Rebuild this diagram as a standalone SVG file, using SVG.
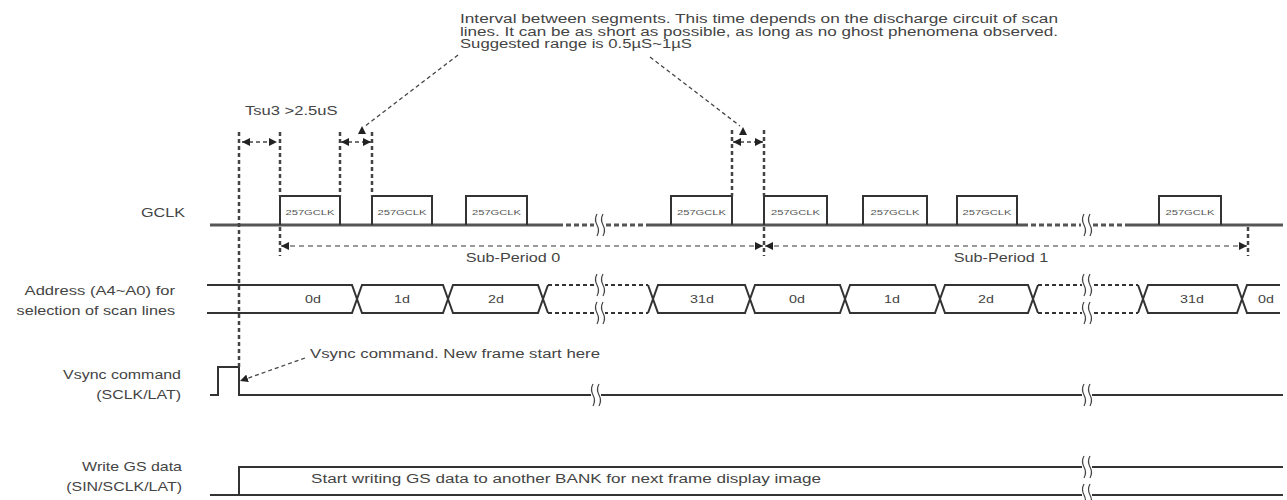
<svg xmlns="http://www.w3.org/2000/svg" width="1287" height="500" viewBox="0 0 1287 500">
<style>
text{font-family:"Liberation Sans",Arial,sans-serif;fill:#444}
.lbl{font-size:12px;text-anchor:end}
.s{font-size:12px}
.p{font-size:8px;fill:#555;text-anchor:middle}
.a{font-size:11px;text-anchor:middle}
.ln{fill:none;stroke:#333;stroke-width:2}
.base{fill:none;stroke:#555;stroke-width:3}
.dash{fill:none;stroke:#555;stroke-width:3;stroke-dasharray:5 3}
.bd{fill:none;stroke:#333;stroke-width:2;stroke-dasharray:4 3}
.vd{fill:none;stroke:#444;stroke-width:2.5;stroke-dasharray:4 3}
.sp{fill:none;stroke:#999;stroke-width:2;stroke-dasharray:5 4}
.ld{fill:none;stroke:#444;stroke-width:1.3;stroke-dasharray:4 3}
.pulse{fill:none;stroke:#333;stroke-width:2}
.bus{fill:#fff;stroke:#333;stroke-width:2}
.ah{fill:#222}
</style>
<defs>
<marker id="ah" viewBox="0 0 10 10" refX="10" refY="5" markerWidth="8" markerHeight="8" orient="auto-start-reverse" markerUnits="userSpaceOnUse"><path d="M0,0 L10,5 L0,10 z" fill="#222"/></marker>
<g id="brk"><rect x="-5" y="-11" width="10" height="22" fill="#fff"/><path d="M-3,-11 q-3,5.5 0,11 q3,5.5 0,11 M3,-11 q-3,5.5 0,11 q3,5.5 0,11" fill="none" stroke="#444" stroke-width="1.2"/></g>
</defs>
<rect width="1287" height="500" fill="#fff"/>

<g id="note-interval">
<text class="s" x="460" y="23" textLength="598" lengthAdjust="spacingAndGlyphs">Interval between segments. This time depends on the discharge circuit of scan</text>
<text class="s" x="460" y="36" textLength="598" lengthAdjust="spacingAndGlyphs">lines. It can be as short as possible, as long as no ghost phenomena observed.</text>
<text class="s" x="460" y="48" textLength="232" lengthAdjust="spacingAndGlyphs">Suggested range is 0.5µS~1µS</text>
</g>

<g id="tsu3">
<text class="s" transform="translate(245,115) scale(1.38,1)">Tsu3 &gt;2.5uS</text>
</g>

<g id="labels">
<text class="lbl" transform="translate(185,217) scale(1.35,1)">GCLK</text>
<text class="lbl" transform="translate(175,295) scale(1.38,1)">Address (A4~A0) for</text>
<text class="lbl" transform="translate(175,315) scale(1.35,1)">selection of scan lines</text>
<text class="lbl" transform="translate(181,379) scale(1.33,1)">Vsync command</text>
<text class="lbl" transform="translate(181,399) scale(1.33,1)">(SCLK/LAT)</text>
<text class="lbl" transform="translate(182,471) scale(1.33,1)">Write GS data</text>
<text class="lbl" transform="translate(182,491) scale(1.33,1)">(SIN/SCLK/LAT)</text>
</g>

<g id="gclk">
<path class="base" d="M210,225 H558 M647,225 H1023 M1130,225 H1283"/>
<path class="dash" d="M558,225 H594 M606,225 H647 M1023,225 H1081 M1093,225 H1130"/>
<use href="#brk" transform="translate(600,225)"/>
<use href="#brk" transform="translate(1087,225)"/>
<path class="pulse" d="M280,225 V196 H340 V225 M372,225 V196 H432 V225 M466,225 V196 H527 V225 M671,225 V196 H732 V225 M764,225 V196 H827 V225 M863,225 V196 H927 V225 M957,225 V196 H1017 V225 M1159,225 V196 H1221 V225"/>
<text class="p" transform="translate(310,215) scale(1.4,1)">257GCLK</text>
<text class="p" transform="translate(402,215) scale(1.4,1)">257GCLK</text>
<text class="p" transform="translate(496.5,215) scale(1.4,1)">257GCLK</text>
<text class="p" transform="translate(701.5,215) scale(1.4,1)">257GCLK</text>
<text class="p" transform="translate(795.5,215) scale(1.4,1)">257GCLK</text>
<text class="p" transform="translate(895,215) scale(1.4,1)">257GCLK</text>
<text class="p" transform="translate(987,215) scale(1.4,1)">257GCLK</text>
<text class="p" transform="translate(1190,215) scale(1.4,1)">257GCLK</text>
</g>

<g id="address">
<path class="bus" d="M207,285 H352 L357,299 L352,313 H207"/>
<path class="bus" d="M357,299 L362,285 H443 L448,299 L443,313 H362 Z"/>
<path class="bus" d="M448,299 L453,285 H538 L543,299 L538,313 H453 Z"/>
<path class="ln" d="M543,299 L548,285 M543,299 L548,313 M648,285 L653,299 L648,313"/>
<path class="bd" d="M548,285 H648 M548,313 H648"/>
<path class="bus" d="M653,299 L658,285 H745 L750,299 L745,313 H658 Z"/>
<path class="bus" d="M750,299 L755,285 H840 L845,299 L840,313 H755 Z"/>
<path class="bus" d="M845,299 L850,285 H935 L940,299 L935,313 H850 Z"/>
<path class="bus" d="M940,299 L945,285 H1028 L1033,299 L1028,313 H945 Z"/>
<path class="ln" d="M1033,299 L1038,285 M1033,299 L1038,313 M1138,285 L1143,299 L1138,313"/>
<path class="bd" d="M1038,285 H1138 M1038,313 H1138"/>
<path class="bus" d="M1143,299 L1148,285 H1237 L1242,299 L1237,313 H1148 Z"/>
<path class="ln" d="M1242,299 L1247,285 H1280 M1242,299 L1247,313 H1280"/>
<use href="#brk" transform="translate(600,285)"/>
<use href="#brk" transform="translate(600,313)"/>
<use href="#brk" transform="translate(1087,285)"/>
<use href="#brk" transform="translate(1087,313)"/>
<text class="a" transform="translate(313,303) scale(1.3,1)">0d</text>
<text class="a" transform="translate(402,303) scale(1.3,1)">1d</text>
<text class="a" transform="translate(496,303) scale(1.3,1)">2d</text>
<text class="a" transform="translate(702,303) scale(1.3,1)">31d</text>
<text class="a" transform="translate(797,303) scale(1.3,1)">0d</text>
<text class="a" transform="translate(892,303) scale(1.3,1)">1d</text>
<text class="a" transform="translate(986,303) scale(1.3,1)">2d</text>
<text class="a" transform="translate(1192,303) scale(1.3,1)">31d</text>
<text class="a" transform="translate(1266,303) scale(1.3,1)">0d</text>
</g>

<g id="vsync">
<path class="ln" d="M210,395 H218 V367 H239 V395 H1283"/>
<use href="#brk" transform="translate(596,395)"/>
<use href="#brk" transform="translate(1087,395)"/>
<text class="s" x="310" y="358" textLength="290" lengthAdjust="spacingAndGlyphs">Vsync command. New frame start here</text>
</g>

<g id="write-gs">
<path class="ln" d="M210,495 H1283 M239,495 V467 H1283"/>
<use href="#brk" transform="translate(1087,467)"/>
<use href="#brk" transform="translate(1087,495)"/>
<text class="s" x="311" y="483" textLength="510" lengthAdjust="spacingAndGlyphs">Start writing GS data to another BANK for next frame display image</text>
</g>

<g id="connectors">
<path class="vd" d="M239,132 V367 M280,132 V196 M280,227 V256 M340,132 V196 M372,132 V196 M732,130 V196 M764,130 V196 M764,227 V256 M1248,227 V256"/>
<path class="ld" d="M242,142 H277" marker-start="url(#ah)" marker-end="url(#ah)"/>
<path class="ld" d="M341,142 H371" marker-start="url(#ah)" marker-end="url(#ah)"/>
<path class="ld" d="M733,142 H763" marker-start="url(#ah)" marker-end="url(#ah)"/>
<path class="sp" d="M281,246 H763" marker-start="url(#ah)" marker-end="url(#ah)"/>
<path class="sp" d="M765,246 H1247" marker-start="url(#ah)" marker-end="url(#ah)"/>
<path class="ld" d="M458,55 L364,127"/>
<polygon class="ah" points="358,134 366,134 362,126"/>
<path class="ld" d="M650,57 L740,126"/>
<polygon class="ah" points="739,135 747,135 743,127"/>
<path class="ld" d="M305,358 L240,381" marker-end="url(#ah)"/>
<text class="s" transform="translate(513,262) scale(1.35,1)" text-anchor="middle">Sub-Period 0</text>
<text class="s" transform="translate(1001,262) scale(1.35,1)" text-anchor="middle">Sub-Period 1</text>
</g>
</svg>
